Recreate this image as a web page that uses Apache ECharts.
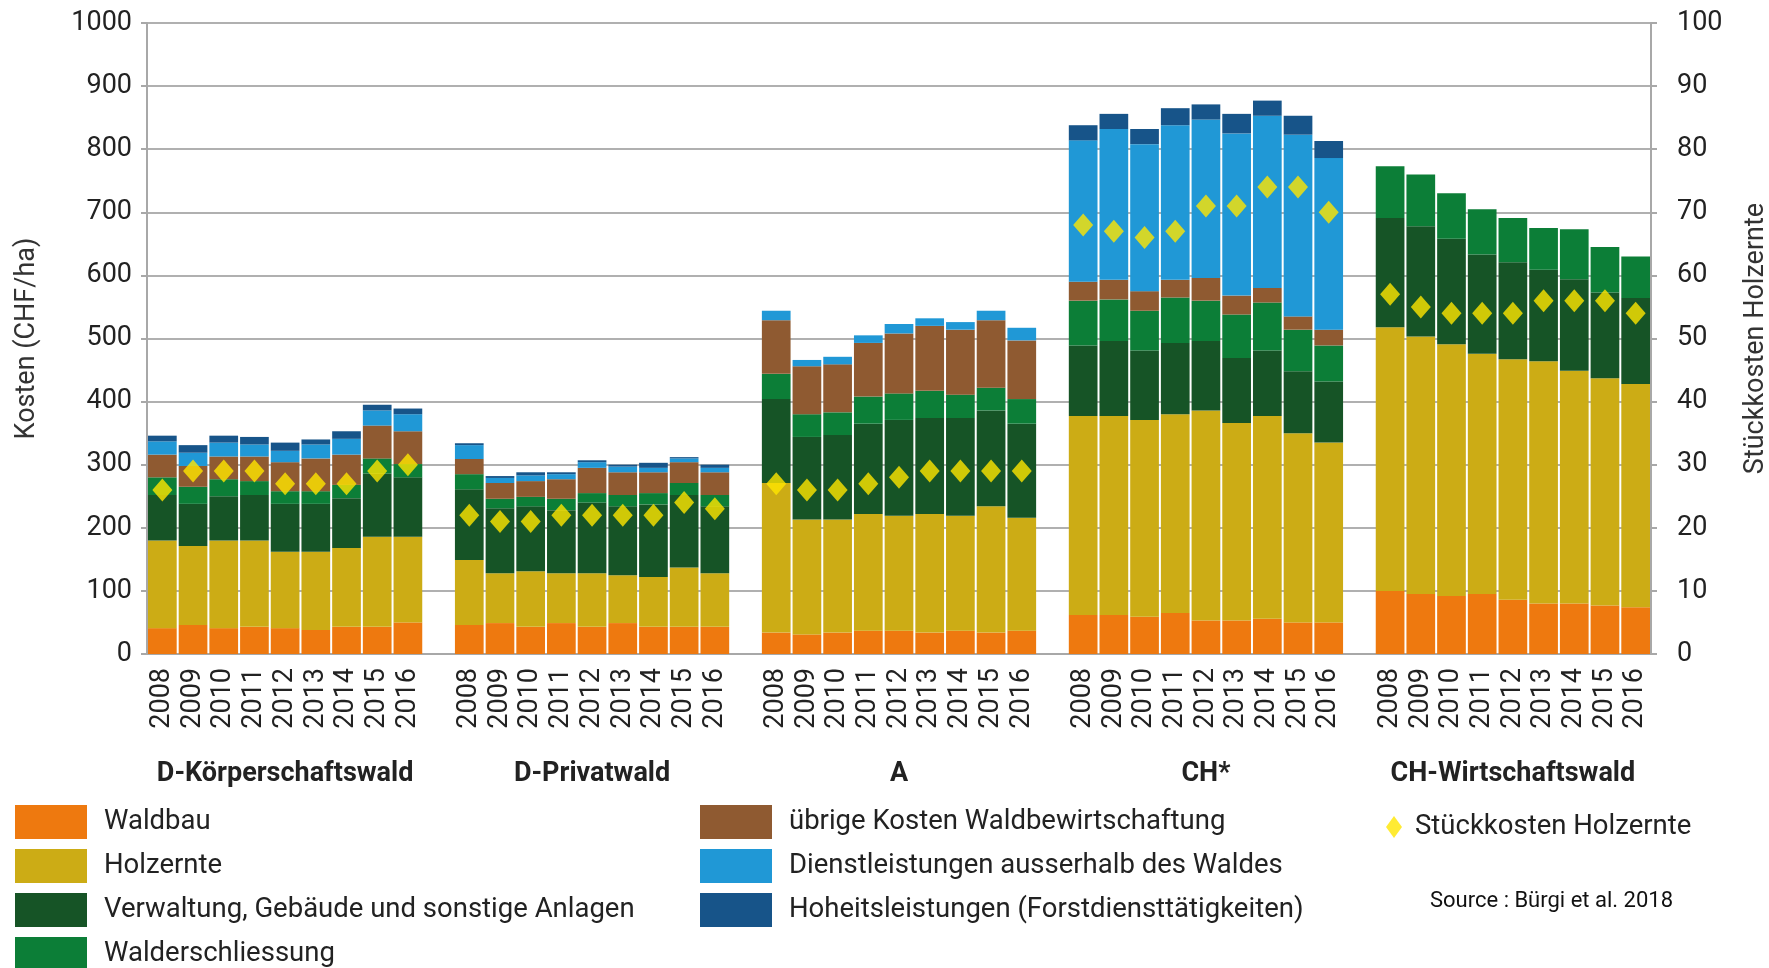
<!DOCTYPE html>
<html>
<head>
<meta charset="utf-8">
<script src="https://cdn.jsdelivr.net/npm/echarts@6/dist/echarts.min.js"></script>
<style>
html,body{margin:0;padding:0;background:#fff;}
#chart{width:1769px;height:968px;}
</style>
</head>
<body>
<div id="chart"></div>
<script>
const years = ['2008','2009','2010','2011','2012','2013','2014','2015','2016'];
const groups = ['D-Körperschaftswald','D-Privatwald','A','CH*','CH-Wirtschaftswald'];
const yLeftTicks = [0,100,200,300,400,500,600,700,800,900,1000];
const yRightTicks = [0,10,20,30,40,50,60,70,80,90,100];

// values per bar, groups in order: D-Körperschaftswald, D-Privatwald, A, CH*, CH-Wirtschaftswald (9 years each)
const waldbau = [
  41,46,41,43,41,38,43,43,50,
  46,49,43,49,43,49,43,43,43,
  34,31,34,37,37,34,37,34,37,
  62,62,59,65,53,53,56,50,50,
  100,95,92,95,86,80,80,77,74];
const holzernte = [
  139,125,139,137,121,124,125,143,136,
  103,79,88,79,85,76,79,94,85,
  237,182,179,185,182,188,182,200,179,
  315,315,312,315,333,313,321,300,285,
  418,408,399,381,381,384,369,360,354];
const verwaltung = [
  72,67,70,72,76,76,79,100,94,
  112,103,103,100,112,109,115,115,106,
  133,131,134,143,152,152,155,152,149,
  112,119,110,113,110,103,104,98,97,
  173,175,167,157,154,145,145,136,136];
const erschliessung = [
  28,27,27,22,20,20,21,24,21,
  24,15,15,18,15,18,18,19,18,
  40,36,36,43,42,43,37,36,39,
  71,66,63,72,64,69,76,66,57,
  82,82,72,72,70,66,79,72,66];
const uebrige = [
  36,33,36,39,46,52,48,52,52,
  24,25,25,31,40,36,33,33,36,
  85,76,76,85,95,103,103,107,93,
  30,31,31,28,36,30,23,21,25,
  null,null,null,null,null,null,null,null,null];
const dienst = [
  21,21,22,19,18,22,25,24,27,
  22,8,9,8,9,9,7,6,7,
  15,10,12,12,15,12,12,15,20,
  224,239,233,245,251,257,273,288,272,
  null,null,null,null,null,null,null,null,null];
const hoheit = [
  9,12,11,12,13,8,12,9,9,
  3,3,5,3,3,3,8,2,5,
  null,null,null,null,null,null,null,null,null,
  24,24,24,27,24,31,24,30,27,
  null,null,null,null,null,null,null,null,null];
const stueckkosten = [
  26,29,29,29,27,27,27,29,30,
  22,21,21,22,22,22,22,24,23,
  27,26,26,27,28,29,29,29,29,
  68,67,66,67,71,71,74,74,70,
  57,55,54,54,54,56,56,56,54];

const seriesNames = ['Waldbau','Holzernte','Verwaltung, Gebäude und sonstige Anlagen','Walderschliessung',
  'übrige Kosten Waldbewirtschaftung','Dienstleistungen ausserhalb des Waldes','Hoheitsleistungen (Forstdiensttätigkeiten)'];
const seriesColors = ['#EE790F','#CCAC15','#165426','#0C7E37','#8F5A31','#2098D6','#175489'];
const seriesValues = [waldbau, holzernte, verwaltung, erschliessung, uebrige, dienst, hoheit];

// insert one empty category between groups
function withGaps(arr, empty){
  const out = [];
  for (let g = 0; g < groups.length; g++){
    for (let i = 0; i < years.length; i++){
      const v = arr[g*years.length + i];
      out.push(v === null || v === undefined ? empty : v);
    }
    if (g < groups.length - 1) out.push(empty);
  }
  return out;
}
const yearCats = [];
const groupCats = [];
for (let g = 0; g < groups.length; g++){
  for (let i = 0; i < years.length; i++){
    yearCats.push(years[i]);
    groupCats.push(i === 4 ? groups[g] : '');
  }
  if (g < groups.length - 1){ yearCats.push(''); groupCats.push(''); }
}

const FONT = 'Roboto';
const TXT = '#222';
const LEG_FS = 27.5;

const series = seriesNames.map((n, k) => ({
  name: n,
  type: 'bar',
  stack: 'total',
  barCategoryGap: '6.5%',
  itemStyle: { color: seriesColors[k] },
  emphasis: { disabled: true },
  data: withGaps(seriesValues[k], null)
}));
series.push({
  name: 'Stückkosten Holzernte',
  type: 'scatter',
  yAxisIndex: 1,
  symbol: 'diamond',
  symbolSize: [20, 23],
  itemStyle: { color: '#FFE600' },
  z: 5,
  data: withGaps(stueckkosten, '-')
});

function rectLegend(names, left, top){
  return {
    orient: 'vertical', left: left, top: top, padding: 0,
    itemWidth: 72, itemHeight: 34, itemGap: 10,
    icon: 'rect',
    data: names,
    textStyle: { fontFamily: FONT, fontSize: LEG_FS, color: TXT, padding: [0, 0, 0, 12] }
  };
}

const chart = echarts.init(document.getElementById('chart'), null, { renderer: 'canvas' });
chart.setOption({
  animation: false,
  backgroundColor: '#ffffff',
  textStyle: { fontFamily: FONT },
  title: {
    text: 'Source : Bürgi et al. 2018',
    left: 1430, top: 890,
    padding: 0,
    textStyle: { fontFamily: FONT, fontSize: 22, fontWeight: 'normal', color: '#111' }
  },
  grid: { left: 147, right: 118, top: 23, bottom: 314, containLabel: false, outerBoundsMode: 'none' },
  legend: [
    rectLegend(seriesNames.slice(0, 3), 15, 805),
    rectLegend(seriesNames.slice(3, 4), 15, 937),
    rectLegend(seriesNames.slice(4, 7), 700, 805),
    {
      orient: 'vertical', left: 1386, top: 813, padding: 0,
      itemWidth: 16, itemHeight: 22,
      data: [{ name: 'Stückkosten Holzernte', icon: 'diamond' }],
      textStyle: { fontFamily: FONT, fontSize: LEG_FS, color: TXT, padding: [0, 0, 0, 8] }
    }
  ],
  xAxis: [
    {
      type: 'category',
      data: yearCats,
      position: 'bottom',
      axisLine: { show: true, lineStyle: { color: '#a8a8a8', width: 2 } },
      axisTick: { show: false },
      axisLabel: { interval: 0, rotate: 90, margin: 14, fontFamily: FONT, fontSize: 27, color: TXT }
    },
    {
      type: 'category',
      data: groupCats,
      position: 'bottom',
      offset: 0,
      axisLine: { show: false },
      axisTick: { show: false },
      axisLabel: { interval: 0, margin: 107, fontFamily: FONT, fontSize: 27, fontWeight: 'bold', color: TXT }
    }
  ],
  yAxis: [
    {
      type: 'value',
      min: yLeftTicks[0], max: yLeftTicks[yLeftTicks.length - 1], interval: 100,
      name: 'Kosten (CHF/ha)',
      nameLocation: 'middle', nameRotate: 90, nameGap: 106,
      nameTextStyle: { fontFamily: FONT, fontSize: 27, color: '#333' },
      axisLine: { show: true, lineStyle: { color: '#a8a8a8', width: 2 } },
      axisTick: { show: true, length: 6, lineStyle: { color: '#a8a8a8', width: 2 } },
      splitLine: { show: true, lineStyle: { color: '#b0b0b0', width: 2 } },
      axisLabel: { margin: 15, fontFamily: FONT, fontSize: 27, color: TXT, formatter: v => String(v) }
    },
    {
      type: 'value',
      min: yRightTicks[0], max: yRightTicks[yRightTicks.length - 1], interval: 10,
      position: 'right',
      name: 'Stückkosten Holzernte',
      nameLocation: 'middle', nameRotate: 90, nameGap: 92,
      nameTextStyle: { fontFamily: FONT, fontSize: 27, color: '#333' },
      axisLine: { show: true, lineStyle: { color: '#a8a8a8', width: 2 } },
      axisTick: { show: true, length: 6, lineStyle: { color: '#a8a8a8', width: 2 } },
      splitLine: { show: false },
      axisLabel: { margin: 26, fontFamily: FONT, fontSize: 27, color: TXT, formatter: v => String(v) }
    }
  ],
  series: series
});
</script>
</body>
</html>
